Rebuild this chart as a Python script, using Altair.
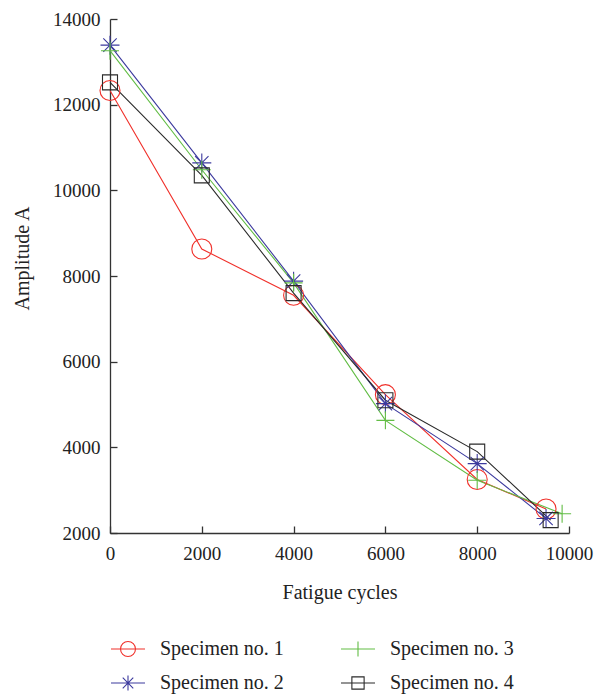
import altair as alt
import pandas as pd

# Series names and measurements (fatigue cycles vs. amplitude)
series_names = ["Specimen no. 1", "Specimen no. 2", "Specimen no. 3", "Specimen no. 4"]

cycles_1 = [0, 2000, 4000, 6000, 8000, 9500]
amplitude_1 = [12330, 8630, 7550, 5230, 3250, 2560]

cycles_2 = [0, 2000, 4000, 6000, 8000, 9500]
amplitude_2 = [13390, 10640, 7880, 5020, 3620, 2340]

cycles_3 = [0, 2000, 4000, 6000, 8000, 9850]
amplitude_3 = [13260, 10480, 7840, 4630, 3230, 2450]

cycles_4 = [0, 2000, 4000, 6000, 8000, 9600]
amplitude_4 = [12520, 10350, 7600, 5100, 3900, 2300]

x_ticks = [0, 2000, 4000, 6000, 8000, 10000]
y_ticks = [2000, 4000, 6000, 8000, 10000, 12000, 14000]

series_colors = ["#f0302a", "#3c3a9e", "#62bd45", "#2a2a2a"]

# Plot markers, drawn in a [-1, 1] box
marker_shapes = [
    "circle",
    "M0,-0.95L0,0.95M-0.95,0L0.95,0M-0.67,-0.67L0.67,0.67M-0.67,0.67L0.67,-0.67",
    "M0,-0.9L0,0.9M-0.9,0L0.9,0",
    "M-0.75,-0.75H0.75V0.75H-0.75Z",
]
# Legend keys: a line segment with the marker on it
legend_shapes = [
    "M-1,0L1,0M0.44,0A0.44,0.44,0,1,1,-0.44,0A0.44,0.44,0,1,1,0.44,0",
    "M-1,0L1,0M0,-0.44L0,0.44M-0.31,-0.31L0.31,0.31M-0.31,0.31L0.31,-0.31",
    "M-1,0L1,0M0,-0.44L0,0.44",
    "M-1,0L1,0M-0.36,-0.36H0.36V0.36H-0.36Z",
]

rows = []
for name, xs, ys in zip(
    series_names,
    [cycles_1, cycles_2, cycles_3, cycles_4],
    [amplitude_1, amplitude_2, amplitude_3, amplitude_4],
):
    for c, a in zip(xs, ys):
        rows.append({"series": name, "cycles": c, "amplitude": a})
df = pd.DataFrame(rows)

W, H = 459, 514
FONT = "Liberation Serif"
TEXT = "#222222"
AXIS = "#333333"

x_scale = alt.Scale(domain=[0, 10000], nice=False, zero=False)
y_scale = alt.Scale(domain=[2000, 14000], nice=False, zero=False)

x_axis = alt.Axis(
    values=x_ticks, format="d", ticks=False, grid=False,
    domainColor=AXIS, domainWidth=1.3,
    labelFont=FONT, labelFontSize=19, labelColor=TEXT, labelPadding=11,
    labelFlush=False, labelOverlap=False,
    title="Fatigue cycles", titleFont=FONT, titleFontSize=20,
    titleFontWeight="normal", titleColor=TEXT,
    titleBaseline="alphabetic", titleY=65,
)
y_axis = alt.Axis(
    values=y_ticks, format="d", ticks=False, grid=False,
    domainColor=AXIS, domainWidth=1.3,
    labelFont=FONT, labelFontSize=19, labelColor=TEXT, labelPadding=10,
    labelOverlap=False,
    title="Amplitude A", titleFont=FONT, titleFontSize=20,
    titleFontWeight="normal", titleColor=TEXT,
    titleAngle=270, titleAlign="center", titleBaseline="alphabetic",
    titleX=-82, titleY=239,
)
# Inward-pointing ticks: extra axes moved onto the plot's bottom and left edges
x_tick_axis = alt.Axis(
    orient="top", offset=-H, values=x_ticks, labels=False, domain=False,
    ticks=True, tickSize=7, tickColor=AXIS, tickWidth=1.3, grid=False, title=None,
)
y_tick_axis = alt.Axis(
    orient="right", offset=-W, values=y_ticks, labels=False, domain=False,
    ticks=True, tickSize=7, tickColor=AXIS, tickWidth=1.3, grid=False, title=None,
)

base = alt.Chart(df)

lines = base.mark_line(strokeWidth=1.1).encode(
    x=alt.X("cycles:Q", scale=x_scale, axis=x_axis),
    y=alt.Y("amplitude:Q", scale=y_scale, axis=y_axis),
    color=alt.Color("series:N", scale=alt.Scale(domain=series_names, range=series_colors), legend=None),
)

points = base.mark_point(filled=False, size=400, strokeWidth=1.1, opacity=1).encode(
    x=alt.X("cycles:Q", scale=x_scale, axis=x_tick_axis),
    y=alt.Y("amplitude:Q", scale=y_scale, axis=y_tick_axis),
    color=alt.Color("series:N", scale=alt.Scale(domain=series_names, range=series_colors), legend=None),
    shape=alt.Shape("series:N", scale=alt.Scale(domain=series_names, range=marker_shapes), legend=None),
)

# Two-column legend, filled column by column (1, 2 | 3, 4)
legend = alt.Legend(
    orient="none", legendX=0, legendY=612, columns=2, title=None,
    labelFont=FONT, labelFontSize=20, labelColor=TEXT, labelLimit=300,
    labelOffset=14, symbolSize=1156, symbolStrokeWidth=1.1, symbolOpacity=1,
    symbolFillColor="transparent",
    rowPadding=6, columnPadding=54, padding=0,
)

legend_layer = base.mark_point(filled=False, opacity=0).encode(
    x=alt.X("cycles:Q", scale=x_scale, axis=None),
    y=alt.Y("amplitude:Q", scale=y_scale, axis=None),
    color=alt.Color("series:N", scale=alt.Scale(domain=series_names, range=series_colors), legend=legend),
    shape=alt.Shape("series:N", scale=alt.Scale(domain=series_names, range=legend_shapes), legend=legend),
)

chart = (
    alt.layer(lines, points, legend_layer)
    .resolve_scale(color="independent", shape="independent")
    .resolve_axis(x="independent", y="independent")
    .properties(
        width=W,
        height=H,
        padding={"left": 110, "top": 19, "right": 27, "bottom": 163},
        autosize=alt.AutoSizeParams(type="none"),
        background="white",
    )
    .configure_view(stroke=None)
)

chart.save("out.html", embed_options={"renderer": "svg", "actions": False})
